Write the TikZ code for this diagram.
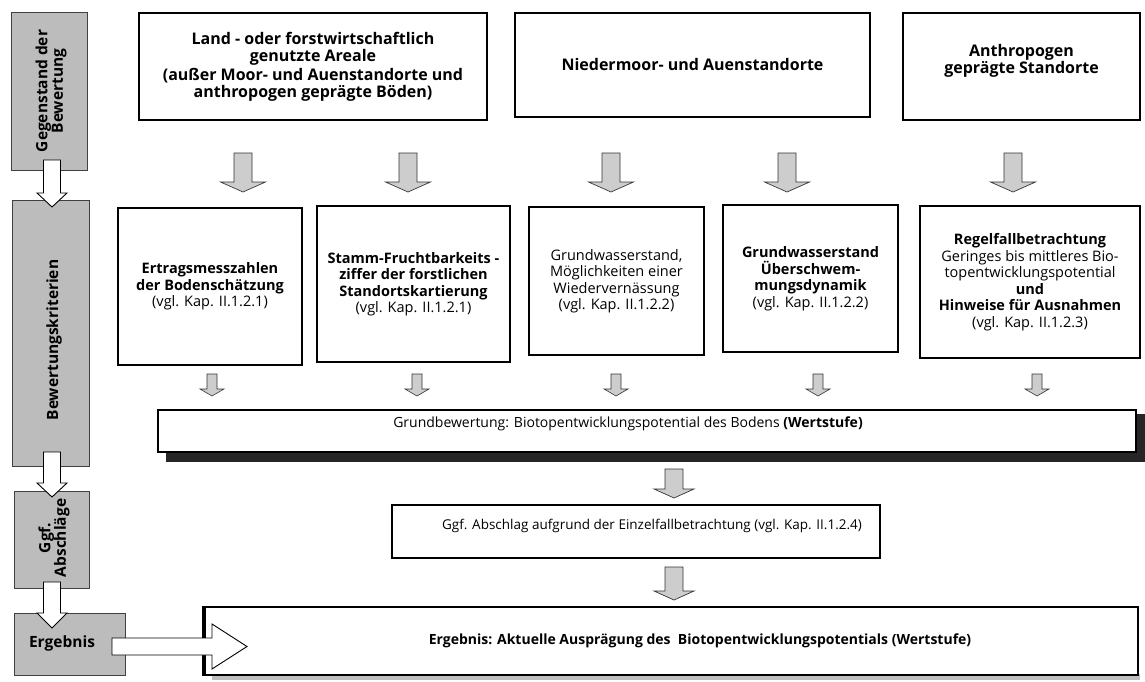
\documentclass[tikz,border=0pt]{standalone}
\usepackage{fontspec}
\setmainfont{Open Sans}
\definecolor{labgray}{RGB}{188,188,188}
\definecolor{arrgray}{RGB}{205,205,205}
\newcommand\vblockarrow[7]{% style, cx, ytop, ytip, half shaft, half head, head length
  \filldraw[#1] (#2-#5,#3) -- (#2+#5,#3) -- (#2+#5,#4-#7) -- (#2+#6,#4-#7) -- (#2,#4)
     -- (#2-#6,#4-#7) -- (#2-#5,#4-#7) -- cycle;}
\begin{document}
\begin{tikzpicture}[x=1pt,y=-1pt,
  box/.style={draw=black,line width=1.1pt,fill=white,align=center,inner sep=2pt,
    font=\fontsize{14.5}{16.5}\selectfont},
  topbox/.style={box,font=\fontsize{16}{17}\selectfont},
  lbox/.style={draw=black!75,line width=0.8pt,fill=labgray,inner sep=0pt},
  ltext/.style={font=\fontsize{15.5}{15.5}\selectfont\bfseries,align=center,inner sep=0pt},
  plaintext/.style={font=\fontsize{14}{16.5}\selectfont,inner sep=0pt},
  bigarr/.style={draw=black!80,line width=0.7pt,fill=arrgray},
  smarr/.style={draw=black!80,line width=0.6pt,fill=arrgray},
  whitearr/.style={draw=black,line width=0.9pt,fill=white},
]
\useasboundingbox (0,0) rectangle (1145,682);

% ---------- left column ----------
\node[lbox,minimum width=76pt,minimum height=158pt] (l1) at (49,91) {};
\node[ltext,rotate=90] (l1t) at (51,91) {Gegenstand der\\Bewertung};
\node[lbox,minimum width=77pt,minimum height=266pt] (l2) at (50.5,333) {};
\node[ltext,rotate=90] (l2t) at (54,340) {Bewertungskriterien};
\node[lbox,minimum width=75pt,minimum height=97pt] (l3) at (51.5,539.5) {};
\node[ltext,rotate=90] (l3t) at (54,538) {Ggf.\\Abschläge};
\node[lbox,minimum width=111pt,minimum height=62pt] (l4) at (69.5,644) {};
\node[ltext] (l4t) at (62,643) {Ergebnis};

\vblockarrow{whitearr}{52}{160}{207}{8.5}{15}{14}
\vblockarrow{whitearr}{52}{452}{497}{8.5}{15}{14}
\vblockarrow{whitearr}{52}{582}{628}{8.5}{15}{15}

% ---------- top row ----------
\node[topbox,minimum width=348pt,minimum height=107pt] (b1) at (313,66.5)
  {\bfseries Land - oder forstwirtschaftlich\\\bfseries genutzte Areale\\[2pt]
   \bfseries (außer Moor- und Auenstandorte und\\\bfseries anthropogen geprägte Böden)};
\node[topbox,minimum width=355pt,minimum height=104pt] (b2) at (692.5,65)
  {\bfseries Niedermoor- und Auenstandorte};
\node[topbox,minimum width=237pt,minimum height=107pt,text depth=16pt] (b3) at (1021.5,66.5)
  {\bfseries Anthropogen\\\bfseries geprägte Standorte};

\vblockarrow{bigarr}{243}{153}{192}{9}{22.5}{10}
\vblockarrow{bigarr}{408}{153}{192}{9}{22.5}{10}
\vblockarrow{bigarr}{611}{153}{192}{9}{22.5}{10}
\vblockarrow{bigarr}{787}{153}{192}{9}{22.5}{10}
\vblockarrow{bigarr}{1013}{153}{192}{9}{22.5}{10}

% ---------- criteria ----------
\node[box,minimum width=184pt,minimum height=157pt] (c1) at (210,286.5)
  {\bfseries Ertragsmesszahlen\\\bfseries der Bodenschätzung\\(vgl. Kap. II.1.2.1)};
\node[box,minimum width=193pt,minimum height=156pt] (c2) at (413.5,284)
  {\bfseries Stamm-Fruchtbarkeits -\\\bfseries ziffer der forstlichen\\\bfseries Standortskartierung\\(vgl. Kap. II.1.2.1)};
\node[box,minimum width=175pt,minimum height=148pt] (c3) at (616.5,281)
  {Grundwasserstand,\\Möglichkeiten einer\\Wiedervernässung\\(vgl. Kap. II.1.2.2)};
\node[box,minimum width=175pt,minimum height=147pt] (c4) at (810.5,278.5)
  {\bfseries Grundwasserstand\\\bfseries Überschwem-\\\bfseries mungsdynamik\\(vgl. Kap. II.1.2.2)};
\node[box,minimum width=220pt,minimum height=152pt] (c5) at (1030,282)
  {\bfseries Regelfallbetrachtung\\Geringes bis mittleres Bio-\\topentwicklungspotential\\\bfseries und\\\bfseries Hinweise für Ausnahmen\\(vgl. Kap. II.1.2.3)};

\vblockarrow{smarr}{212}{374}{396}{5}{12}{7}
\vblockarrow{smarr}{417}{374}{396}{5}{12}{7}
\vblockarrow{smarr}{616}{374}{396}{5}{12}{7}
\vblockarrow{smarr}{818}{374}{396}{5}{12}{7}
\vblockarrow{smarr}{1037}{374}{396}{5}{12}{7}

% ---------- Grundbewertung ----------
\fill[black!85] (166,414) rectangle (1145,462);
\node[box,minimum width=978pt,minimum height=42pt] (g) at (647,431) {};
\node[plaintext] (gt) at (628,424)
  {Grundbewertung: Biotopentwicklungspotential des Bodens {\bfseries (Wertstufe)}};

\vblockarrow{bigarr}{674}{469}{498}{9}{20}{9}

% ---------- Abschlag ----------
\node[box,minimum width=488pt,minimum height=53pt] (a) at (636,531.5) {};
\node[plaintext,font=\fontsize{13.5}{16}\selectfont] (at) at (652,526)
  {Ggf. Abschlag aufgrund der Einzelfallbetrachtung (vgl. Kap. II.1.2.4)};

\vblockarrow{bigarr}{674}{567}{600}{9}{20}{9}

% ---------- Ergebnis ----------
\fill[black!25] (212,674) rectangle (1140,680);
\node[box,line width=1.8pt,minimum width=933pt,minimum height=68pt] (e) at (671.5,641) {};
\draw[line width=3.5pt] (e.north west) -- (e.south west);
\node[plaintext,font=\fontsize{14}{16.5}\selectfont\bfseries] (et) at (700,641)
  {Ergebnis: Aktuelle Ausprägung des\ \ Biotopentwicklungspotentials (Wertstufe)};

\filldraw[whitearr] (112,638) -- (212,638) -- (212,624) -- (247,646.5) -- (212,669)
  -- (212,655) -- (112,655) -- cycle;
\end{tikzpicture}
\end{document}
